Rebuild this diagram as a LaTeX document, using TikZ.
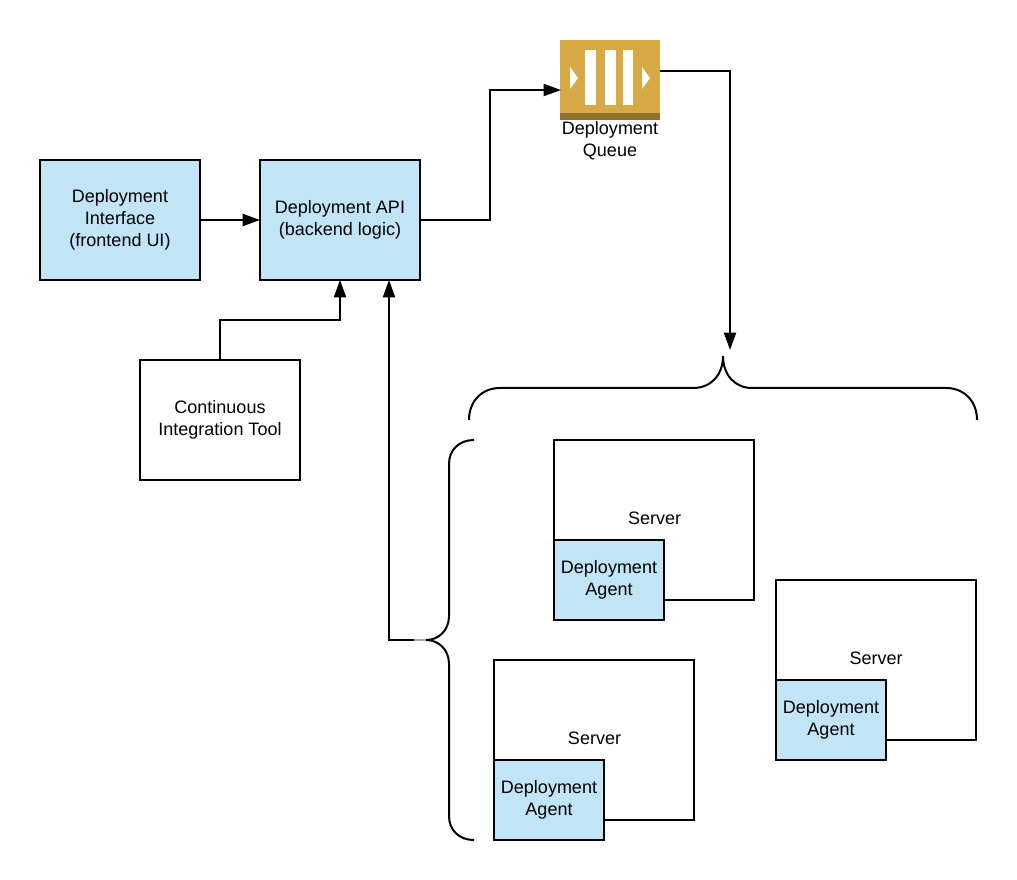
\documentclass[tikz,border=0pt]{standalone}
\usepackage{fontspec}
\setmainfont{Liberation Sans}
\usetikzlibrary{arrows.meta}
\definecolor{agentblue}{HTML}{C1E4F7}
\definecolor{queuegold}{HTML}{D7A945}
\definecolor{queuedark}{HTML}{8F6F32}

\begin{document}
\begin{tikzpicture}[
  x=0.75pt,y=-0.75pt,
  box/.style={draw,line width=1.5pt,outer sep=0pt,inner sep=0pt,align=center,
              font=\fontsize{13.5}{16.5}\selectfont},
  bigbox/.style={box,minimum width=120pt,minimum height=90pt},
  serverbox/.style={box,fill=white,minimum width=150pt,minimum height=120pt},
  agentbox/.style={box,fill=agentblue,minimum width=82.5pt,minimum height=60pt},
  caption/.style={align=center,inner sep=0pt,font=\fontsize{13.5}{16.5}\selectfont},
  conn/.style={line width=1.5pt,-{Triangle[length=13pt,width=9pt]}},
  brace/.style={line width=1.5pt},
]
\useasboundingbox (0,0) rectangle (1017,880);

% === Front end ===
\node[bigbox,fill=agentblue] (iface) at (120,220) {Deployment\\Interface\\(frontend UI)};
\node[bigbox,fill=agentblue] (api) at (340,220) {Deployment API\\(backend logic)};
\node[bigbox] (citool) at (220,420) {Continuous\\Integration Tool};

% === Queue ===
\node[fill=queuegold,outer sep=0pt,inner sep=0pt,minimum width=75pt,minimum height=60pt] (queue) at (610,80) {};
\fill[queuedark] (560,113) rectangle (660,120);
\foreach \xa/\xb in {585/596,605/616,623/633}
  \fill[white] (\xa,50) rectangle (\xb,105);
\fill[white] (570,67) -- (578,78) -- (570,89) -- cycle;
\fill[white] (642,67) -- (650,78) -- (642,89) -- cycle;
\node[caption] (queuelabel) at (610,141) {Deployment\\Queue};

% === Servers ===
\node[serverbox] (serverA) at (654,520) {};
\node[caption] (serverAlabel) at (654.5,518) {Server};
\node[agentbox] (agentA) at (609,580) {Deployment\\Agent};
\node[serverbox] (serverB) at (876,660) {};
\node[caption] (serverBlabel) at (876,658) {Server};
\node[agentbox] (agentB) at (831,720) {Deployment\\Agent};
\node[serverbox] (serverC) at (594,740) {};
\node[caption] (serverClabel) at (594.5,738) {Server};
\node[agentbox] (agentC) at (549,800) {Deployment\\Agent};

% free ends of the connectors
\coordinate (queuein) at (561,90);
\coordinate (queueout) at (660,71);
\coordinate (apiin) at (389,280);
\coordinate (bracetop) at (730,350);
\coordinate (braceleft) at (414,640);

% === Connectors ===
\draw[conn] (iface) -- (api);
\draw[conn] (api.east) -- ++(70,0) |- (queuein);
\draw[conn] (citool.north) -- ++(0,-40) -| (api.south);
\draw[conn] (queueout) -| (bracetop);
\draw[conn] (braceleft) -- ++(-25,0) -- (apiin);

% === Braces ===
\draw[brace] (469,420) .. controls (469,401) and (482,388) .. (500,388) -- (693,388)
  .. controls (711,388) and (723,375) .. (723,356)
  .. controls (723,375) and (735,388) .. (752,388) -- (946,388)
  .. controls (964,388) and (977,401) .. (977,420);
\draw[brace] (474,440) .. controls (459,440) and (449,450) .. (449,464) -- (449,616)
  .. controls (449,630) and (439,640) .. (426,640)
  .. controls (439,640) and (449,650) .. (449,664) -- (449,816)
  .. controls (449,830) and (459,840) .. (474,840);
\draw[line width=1.5pt,black!35] (braceleft) -- (426,640);

\end{tikzpicture}
\end{document}
